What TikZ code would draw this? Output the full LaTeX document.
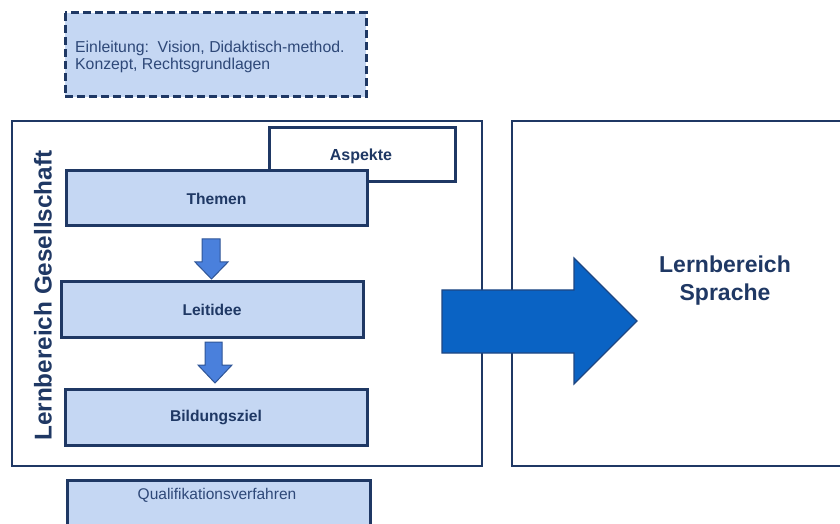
\documentclass[tikz,border=0pt]{standalone}
\usepackage{fontspec}
\setmainfont{Liberation Sans}
\begin{document}
\definecolor{navy}{RGB}{31,56,100}
\definecolor{boxfill}{RGB}{197,215,243}
\definecolor{txtblue}{RGB}{46,72,120}
\definecolor{bigblue}{RGB}{10,99,196}
\definecolor{bigedge}{RGB}{30,70,130}
\definecolor{smallblue}{RGB}{74,128,220}
\definecolor{smalledge}{RGB}{47,85,151}
\begin{tikzpicture}[x=1bp,y=-1bp,
  area/.style={draw=navy,line width=1.5bp,fill=white},
  stepbox/.style={draw=navy,line width=3bp,fill=boxfill},
  steplabel/.style={text=navy,font=\fontsize{15.6bp}{18bp}\selectfont\bfseries},
  blockdown/.style={fill=smallblue,draw=smalledge,line width=1bp,line join=miter},
  bigarrow/.style={fill=bigblue,draw=bigedge,line width=1.2bp,line join=miter}]
\useasboundingbox (0,0) rectangle (840,524);

% intro box
\draw[draw=navy,line width=3bp,fill=boxfill,dash pattern=on 8bp off 4bp]
  (65,13) rectangle (366,97);
\node[anchor=north west,align=left,text=txtblue,inner sep=0pt,
  font=\fontsize{15.8bp}{17bp}\selectfont] (intro) at (75,40.5)
  {Einleitung:\ \ Vision, Didaktisch-method.\\Konzept, Rechtsgrundlagen};

% two learning areas
\draw[area] (12,121) rectangle (482,466);
\draw[area] (512,121) rectangle (845,466);
\node[rotate=90,anchor=west,text=navy,inner sep=0pt,
  font=\fontsize{24.3bp}{28bp}\selectfont\bfseries] (ges) at (43,441)
  {Lernbereich Gesellschaft};

% boxes of the left area
\draw[draw=navy,line width=3bp,fill=white] (269,128) rectangle (455,182);
\node[steplabel,font=\fontsize{16bp}{18bp}\selectfont\bfseries] (asp) at (361,156) {Aspekte};
\draw[stepbox] (66,171) rectangle (367,226);
\node[steplabel] (them) at (216.5,198.5) {Themen};
\draw[stepbox] (61,282) rectangle (363,337);
\node[steplabel] (leit) at (212,309.5) {Leitidee};
\draw[stepbox] (65,389) rectangle (367,445);
\node[steplabel] (bild) at (216,417) {Bildungsziel};

% down arrows between the steps
\draw[blockdown] (202,239) -- (220,239) -- (220,262) -- (228,262) -- (211.5,279)
  -- (195,262) -- (202,262) -- cycle;
\draw[blockdown] (205,342) -- (222,342) -- (222,365) -- (232,365) -- (215,383)
  -- (198,365) -- (205,365) -- cycle;

% transfer arrow
\draw[bigarrow] (442,290) -- (574,290) -- (574,258) -- (637,321) -- (574,384)
  -- (574,353) -- (442,353) -- cycle;

\node[align=center,text=navy,font=\fontsize{23bp}{28bp}\selectfont\bfseries]
  (spr) at (725,281) {Lernbereich\\Sprache};

% qualification box
\draw[draw=navy,line width=3bp,fill=boxfill] (67,480) rectangle (370,530);
\node[text=txtblue,font=\fontsize{15.5bp}{18bp}\selectfont] (qual) at (217,495.5)
  {Qualifikationsverfahren};
\end{tikzpicture}
\end{document}
